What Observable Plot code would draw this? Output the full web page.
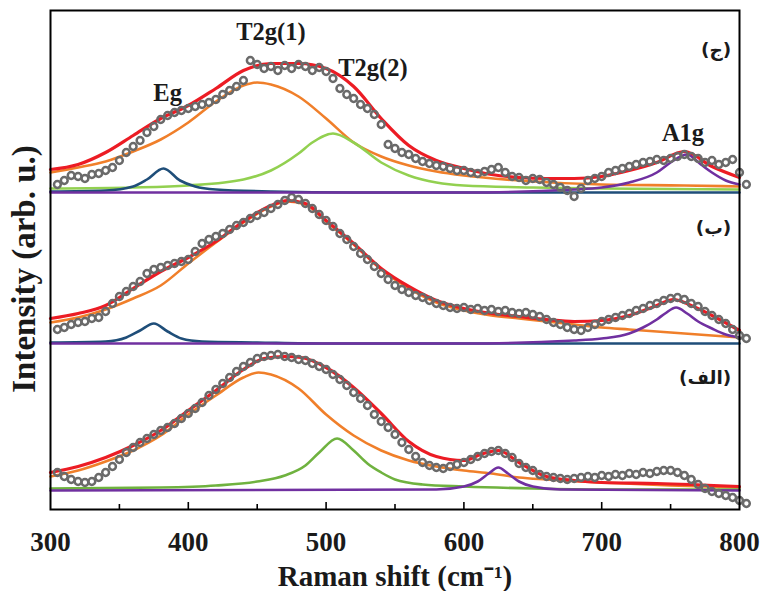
<!DOCTYPE html>
<html>
<head>
<meta charset="utf-8">
<script src="https://cdn.jsdelivr.net/npm/d3@7"></script>
<script src="https://cdn.jsdelivr.net/npm/@observablehq/plot@0.6"></script>
<style>
  html, body { margin: 0; padding: 0; background: #fff; }
  #chart svg { display: block; overflow: visible; }
</style>
</head>
<body>
<div id="chart"></div>
<script>
// ---------- data: Raman shift grid of the measured points (cm-1) ----------
const shift = [305,310,315,320,325,330,335,340,345,350,355,360,365,370,375,380,385,390,395,400,
  405,410,415,420,425,430,435,440,445,450,455,460,465,470,475,480,485,490,495,500,
  505,510,515,520,525,530,535,540,545,550,555,560,565,570,575,580,585,590,595,600,
  605,610,615,620,625,630,635,640,645,650,655,660,665,670,675,680,685,690,695,700,
  705,710,715,720,725,730,735,740,745,750,755,760,765,770,775,780,785,790,795,800,805];

// measured intensities (a.u., above each spectrum's own baseline)
const measuredJim = [8,12,17,16,14,18,19,22,25,32, 40,46,52,60,66,73,77,80,82,84,
  86,88,90,93,98,102,106,112,132,128, 124,126,122,127,124,128,126,122,125,121,
  114,104,98,94,88,84,78,68,48,44, 40,38,34,31,29,27,26,24,22,22,
  20,19,21,23,25,20,16,15,12,14, 13,10,8,5,2,-4,4,12,14,16,
  20,22,24,26,28,30,31,33,32,34, 36,38,36,34,30,32,28,30,33,20, 8];
const measuredBe = [14,16,19,21,22,25,26,32,40,47, 52,57,62,70,74,76,78,80,82,84,
  92,100,104,107,110,114,118,121,125,128, 131,135,139,143,146,144,140,135,129,123,
  117,110,104,97,90,84,77,70,64,58, 54,51,48,46,43,40,38,36,35,36,
  34,35,33,34,32,33,31,30,31,29, 27,24,21,19,16,14,13,16,19,22,
  24,26,28,30,33,35,38,40,43,45, 46,44,40,37,32,28,24,20,14,8, 5];
const measuredAlef = [18,14,11,9,8,9,13,18,24,31, 38,43,48,52,56,60,63,67,72,77,
  82,88,95,101,107,113,119,124,128,132, 134,135,136,134,133,131,130,127,124,121,
  116,111,105,98,92,85,76,69,63,56, 48,41,34,28,25,23,22,24,26,28,
  31,34,37,39,40,37,33,27,23,20, 16,14,13,12,11,12,13,14,13,15,
  14,16,15,17,16,18,17,19,20,20, 18,15,11,6,2,-1,-3,-5,-7,-10, -13];

// fitted curves [shift, intensity]
const jimFit   = [[300,23],[320,28],[340,40],[360,57],[380,74],[400,87],[420,104],[440,122],[460,129],[480,129],[500,124],[520,106],[540,74],[560,47],[580,32],[600,24],[620,18],[640,15],[660,14],[680,14],[700,16],[720,22],[740,30],[760,41],[780,26],[800,15]];
const jimT2g1  = [[300,20],[320,25],[340,31],[360,41],[380,53],[400,70],[420,91],[440,107],[450,110],[460,108],[480,96],[500,74],[520,50],[540,36],[560,27],[580,21],[600,17],[640,12],[700,8],[760,7],[800,6]];
const jimT2g2  = [[300,4],[360,5],[400,7],[440,13],[460,22],[480,39],[490,50],[505,59],[520,50],[540,30],[560,17],[580,10],[600,7],[650,5],[700,4],[800,3]];
const jimEg    = [[300,1],[340,2],[360,6],[370,13],[382,24],[394,12],[405,6],[420,3],[460,1],[520,0],[800,0]];
const jimA1g   = [[300,0],[600,0],[680,3],[700,5],[720,10],[740,20],[750,30],[762,38],[772,28],[780,20],[790,12],[800,8]];

const beFit    = [[300,25],[320,30],[340,38],[360,55],[380,72],[400,86],[420,102],[440,122],[460,138],[472,143],[485,140],[500,123],[520,100],[540,75],[560,57],[580,43],[600,35],[620,30],[640,27],[660,24],[680,22],[700,23],[720,28],[740,38],[752,44],[765,38],[780,28],[800,13]];
const beT2g    = [[300,21],[320,26],[340,34],[360,45],[380,58],[400,80],[420,101],[440,121],[460,137],[472,142],[485,139],[500,122],[520,99],[540,74],[560,55],[580,41],[600,33],[620,28],[640,25],[660,22],[680,19],[700,16],[720,14],[740,12],[760,10],[780,8],[800,6]];
const beEg     = [[300,1],[340,2],[355,6],[365,13],[375,20],[385,12],[395,5],[410,2],[450,1],[500,0],[800,0]];
const beA1g    = [[300,0],[600,0],[680,3],[700,5],[720,10],[730,16],[740,24],[746,30],[754,36],[762,30],[770,22],[780,15],[790,9],[800,6]];

const alefFit  = [[300,18],[320,24],[340,33],[360,45],[380,60],[400,80],[420,100],[440,121],[455,132],[470,134],[482,133],[500,123],[520,103],[540,77],[560,49],[580,34],[600,30],[612,36],[625,40],[640,28],[660,14],[680,10],[700,8],[740,7],[800,4]];
const alefT2g1 = [[300,14],[320,20],[340,29],[360,40],[380,55],[400,76],[420,95],[440,113],[451,118],[460,116],[480,102],[500,76],[520,55],[540,40],[560,30],[580,24],[600,20],[620,17],[640,13],[660,11],[700,8],[750,5],[800,3]];
const alefT2g2 = [[300,2],[380,3],[420,5],[450,9],[470,15],[485,25],[495,38],[508,52],[520,40],[530,27],[540,18],[550,11],[570,6],[600,4],[650,2],[700,1],[800,1]];
const alefP620 = [[300,0],[580,1],[600,4],[610,9],[618,17],[625,23],[632,17],[640,9],[650,4],[670,1],[800,0]];

// labels
const peakNames = ["T2g(1)", "T2g(2)", "Eg", "A1g"];
const peakShift = [460, 534, 385, 759];
const peakLevel = [160, 124, 99, 59];   // intensity above the top spectrum's baseline
const sampleNames = ["(ج)", "(ب)", "(الف)"];
const xTicks = [300, 400, 500, 600, 700, 800];
const minorTicks = [350, 450, 550, 650, 750];
const majorTicks = [400, 500, 600, 700];
const yTitle = "Intensity (arb. u.)";
const xTitle = "Raman shift (cm⁻¹)";

// ---------- layout (stacking offsets of the three spectra) ----------
const offJim = 317, offBe = 166, offAlef = 19;
const sampleX = 794;
const sampleOff = [offJim + 142, offBe + 115, offAlef + 112];

const C = {red: "#ec1c24", orange: "#f07f2a", lgreen: "#92d050", green: "#6fb23f",
           blue: "#1f4e79", purple: "#7030a0", gray: "#6a6a6a"};

const toPts = (pairs, off) => pairs.map(([x, v]) => ({x, y: v + off}));
const dotsOf = (vals, off) => shift.map((x, i) => ({x, y: vals[i] + off}));
const line = (pairs, off, color, w = 2.6) =>
  Plot.line(toPts(pairs, off), {x: "x", y: "y", stroke: color, strokeWidth: w, curve: "monotone-x"});
const dots = (vals, off) =>
  Plot.dot(dotsOf(vals, off), {x: "x", y: "y", r: 3.4, stroke: C.gray, strokeWidth: 2.5, fill: "none"});

const serif = "Liberation Serif, Times New Roman, serif";

const chart = Plot.plot({
  width: 764, height: 591,
  marginLeft: 50, marginRight: 25, marginTop: 10, marginBottom: 82,
  x: {domain: [300, 800]},
  y: {domain: [0, 499], axis: null},
  style: {background: "white", overflow: "visible"},
  marks: [
    // spectrum (الف)
    line(alefT2g1, offAlef, C.orange),
    line(alefT2g2, offAlef, C.green),
    line(alefP620, offAlef, C.purple),
    line(alefFit, offAlef, C.red, 3.2),
    dots(measuredAlef, offAlef),
    // spectrum (ب)
    line(beT2g, offBe, C.orange),
    line(beEg, offBe, C.blue),
    line(beA1g, offBe, C.purple),
    line(beFit, offBe, C.red, 3.2),
    dots(measuredBe, offBe),
    // spectrum (ج)
    line(jimT2g1, offJim, C.orange),
    line(jimT2g2, offJim, C.lgreen),
    line(jimEg, offJim, C.blue),
    line(jimA1g, offJim, C.purple),
    line(jimFit, offJim, C.red, 3.2),
    dots(measuredJim, offJim),
    // peak labels
    Plot.text(peakNames, {x: (d, i) => peakShift[i], y: (d, i) => peakLevel[i] + offJim, text: d => d,
      fontSize: 24.5, fontWeight: "bold", fontFamily: serif, fill: "#1a1a1a"}),
    Plot.text(sampleNames, {x: sampleX, y: (d, i) => sampleOff[i], text: d => d,
      textAnchor: "end", fontSize: 18.5, fontWeight: "bold", fontFamily: "DejaVu Sans", fill: "#1a1a1a"}),
    // inward ticks
    Plot.ruleX(majorTicks, {x: d => d, y1: 0, y2: 7, stroke: "black", strokeWidth: 1.6}),
    Plot.ruleX(minorTicks, {x: d => d, y1: 0, y2: 5, stroke: "black", strokeWidth: 1.6}),
    Plot.frame({stroke: "black", strokeWidth: 2}),
    Plot.axisX({ticks: xTicks, tickSize: 0, tickPadding: 22, tickFormat: d => String(d),
      fontSize: 27, fontWeight: "bold", fontFamily: serif, fill: "#1a1a1a", label: null}),
    Plot.text([xTitle], {frameAnchor: "bottom", dy: 76, lineAnchor: "bottom", text: d => d,
      fontSize: 29, fontWeight: "bold", fontFamily: serif, fill: "#1a1a1a"}),
    Plot.text([yTitle], {frameAnchor: "left", textAnchor: "middle", rotate: -90, dx: -26, dy: 9, text: d => d,
      fontSize: 33, fontWeight: "bold", fontFamily: serif, fill: "#1a1a1a"})
  ]
});
document.getElementById("chart").appendChild(chart);
</script>
</body>
</html>
